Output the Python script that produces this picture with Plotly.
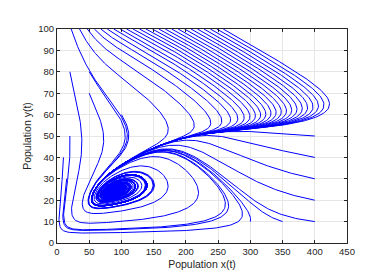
import numpy as np
import plotly.graph_objects as go

# ---- initial conditions ----
top_x0 = [22, 35, 47, 58, 68, 78, 88, 98, 108, 118, 128, 138, 148, 158, 168,
          178, 188, 198, 208, 218, 228, 238, 248, 258]
top_y0 = [100] * len(top_x0)
side_x0 = [20, 50, 50, 100, 20, 10, 15, 300, 350, 400, 400, 400, 400, 400]
side_y0 = [80, 80, 70, 60, 50, 40, 30, 10, 10, 10, 20, 30, 40, 50]

# ---- model constants (nullcline shapes) ----
X_EQ = 88.0
XPK, LPK, KL = 150.0, 27.0, 7.1e-4   # lower x-nullcline (hump)
U0, U1 = 45.0, 0.047                # upper x-nullcline
NA, NS, NC = 29.0, 100.0, 0.0038    # y-nullcline
XOFF = 20.0
B0, WX = 10.5, 56.0
YLOW, YS = 5.0, 2.0                 # slow y-change near the x axis

x_ticks = [0, 50, 100, 150, 200, 250, 300, 350, 400, 450]
y_ticks = [0, 10, 20, 30, 40, 50, 60, 70, 80, 90, 100]

SX, SY = 290 / 450.0, 222 / 100.0


def lower(x):
    return LPK - KL * (x - XPK) ** 2


Y_EQ = lower(X_EQ)


def field(x, y):
    L = lower(x)
    U = U0 + U1 * x
    N = Y_EQ + NA * np.tanh((x - X_EQ) / NS) - NC * np.maximum(0, X_EQ - x) ** 2
    ky = B0 * np.sqrt(1 + ((x - X_EQ) / WX) ** 2) / (1 + np.exp(-(y - YLOW) / YS))
    fx = (x + XOFF) * (y - L) * (y - U)
    fy = ky * y * (N - y)
    return fx, fy


def unit(x, y):
    fx, fy = field(x, y)
    s = np.sqrt((fx * SX) ** 2 + (fy * SY) ** 2) + 1e-12
    return fx / s, fy / s


x0 = np.array(top_x0 + side_x0, float)
y0 = np.array(top_y0 + side_y0, float)
h = 0.5
nsteps = 24000
X = np.full((nsteps, len(x0)), np.nan)
Y = np.full((nsteps, len(x0)), np.nan)
x, y = x0.copy(), y0.copy()
alive = np.ones(len(x0), bool)
for i in range(nsteps):
    X[i] = np.where(alive, x, np.nan)
    Y[i] = np.where(alive, y, np.nan)
    k1 = unit(x, y)
    k2 = unit(x + 0.5 * h * k1[0], y + 0.5 * h * k1[1])
    k3 = unit(x + 0.5 * h * k2[0], y + 0.5 * h * k2[1])
    k4 = unit(x + h * k3[0], y + h * k3[1])
    x = x + h / 6 * (k1[0] + 2 * k2[0] + 2 * k3[0] + k4[0])
    y = y + h / 6 * (k1[1] + 2 * k2[1] + 2 * k3[1] + k4[1])
    d = np.hypot((x - X_EQ) * SX, (y - Y_EQ) * SY)
    alive &= d > 0.8
    if not alive.any():
        break

xs, ys = [], []
for j in range(len(x0)):
    col_x = X[::3, j]
    col_y = Y[::3, j]
    m = ~np.isnan(col_x)
    xs += list(col_x[m]) + [None]
    ys += list(col_y[m]) + [None]

fig = go.Figure()
fig.add_trace(go.Scatter(x=xs, y=ys, mode="lines",
                         line=dict(color="#0000ff", width=1), hoverinfo="skip"))

axis_font = dict(family="Liberation Sans, Arial, sans-serif", size=9.5, color="#262626")
title_font = dict(family="Liberation Sans, Arial, sans-serif", size=10.5, color="#262626")
common = dict(showgrid=True, gridcolor="#e6e6e6", zeroline=False, showline=True,
              linecolor="#262626", linewidth=1, mirror="ticks", ticks="inside",
              ticklen=3, tickcolor="#262626", tickfont=axis_font)
fig.update_layout(
    width=374, height=273,
    margin=dict(l=49, r=35, t=21, b=30),
    paper_bgcolor="white", plot_bgcolor="white",
    showlegend=False,
    xaxis=dict(range=[0, 450], tickvals=x_ticks,
               title=dict(text="Population x(t)", font=title_font, standoff=4), **common),
    yaxis=dict(range=[0, 100], tickvals=y_ticks,
               title=dict(text="Population y(t)", font=title_font, standoff=4), **common),
)
fig.write_html("out.html")
